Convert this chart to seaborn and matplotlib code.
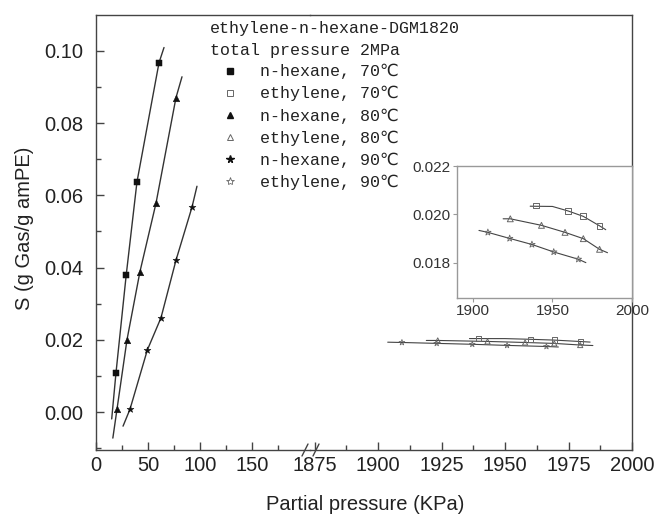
import numpy as np
import matplotlib
matplotlib.use('Agg')
import matplotlib.pyplot as plt
import seaborn as sns
from matplotlib.lines import Line2D

sns.set_theme(style='ticks')
plt.rcParams['font.family'] = ['Liberation Sans', 'DejaVu Sans']
MONO = ['Liberation Mono', 'DejaVu Sans']

# --- data ---
# n-hexane, low partial pressure (left part of broken axis)
hex70_x = [19.2, 29.0, 39.4, 60.6]
hex70_y = [0.0108, 0.0378, 0.0637, 0.0967]
hex80_x = [20.2, 29.8, 42.3, 57.7, 76.9]
hex80_y = [0.0008, 0.0200, 0.0389, 0.0578, 0.0870]
hex90_x = [32.7, 49.4, 62.5, 76.9, 92.3]
hex90_y = [0.0008, 0.0172, 0.0261, 0.0420, 0.0567]

# fitted curves (n-hexane)
fit_hex70_x = [15.1, 19.2, 29.0, 39.4, 60.6, 65.4]
fit_hex70_y = [-0.0019, 0.0108, 0.0378, 0.0637, 0.0967, 0.1009]
fit_hex80_x = [16.2, 20.2, 29.8, 42.3, 57.7, 76.9, 82.7]
fit_hex80_y = [-0.0072, 0.0008, 0.0200, 0.0389, 0.0578, 0.0870, 0.0928]
fit_hex90_x = [26.0, 32.7, 49.4, 62.5, 76.9, 92.3, 97.1]
fit_hex90_y = [-0.0039, 0.0008, 0.0172, 0.0261, 0.0420, 0.0567, 0.0625]

# ethylene, high partial pressure (right part)
eth70_x = [1939.4, 1960.0, 1969.4, 1979.6]
eth70_y = [0.02037, 0.02014, 0.01992, 0.01953]
eth80_x = [1923.5, 1943.1, 1957.9, 1969.4, 1979.6]
eth80_y = [0.01982, 0.01955, 0.01926, 0.01900, 0.01856]
eth90_x = [1909.4, 1923.1, 1937.1, 1950.8, 1966.3]
eth90_y = [0.01926, 0.01901, 0.01876, 0.01845, 0.01815]

# fitted curves (ethylene)
fit_eth70_x = [1936.0, 1950.0, 1960.0, 1969.4, 1979.6, 1983.5]
fit_eth70_y = [0.02034, 0.02033, 0.02014, 0.01992, 0.01953, 0.01937]
fit_eth80_x = [1919.0, 1923.5, 1943.1, 1957.9, 1969.4, 1979.6, 1984.6]
fit_eth80_y = [0.01982, 0.01982, 0.01955, 0.01926, 0.01900, 0.01856, 0.01842]
fit_eth90_x = [1903.8, 1909.4, 1923.1, 1937.1, 1950.8, 1966.3, 1971.0]
fit_eth90_y = [0.01934, 0.01926, 0.01901, 0.01876, 0.01845, 0.01815, 0.01801]

labels = ['n-hexane, 70\u2103', 'ethylene, 70\u2103', 'n-hexane, 80\u2103',
          'ethylene, 80\u2103', 'n-hexane, 90\u2103', 'ethylene, 90\u2103']

# --- figure ---
W, H = 654, 515
fig = plt.figure(figsize=(W / 100, H / 100), dpi=100)
bot, top = 450, 15
ax_l = fig.add_axes([96 / W, (H - bot) / H, (310 - 96) / W, (bot - top) / H])
ax_r = fig.add_axes([310 / W, (H - bot) / H, (632 - 310) / W, (bot - top) / H])
ax_in = fig.add_axes([457 / W, (H - 298) / H, (632 - 457) / W, (298 - 166) / H])

line_c = '#333333'
mk_c = '#111111'
op_c = '#666666'

for fx, fy in [(fit_hex70_x, fit_hex70_y), (fit_hex80_x, fit_hex80_y), (fit_hex90_x, fit_hex90_y)]:
    sns.lineplot(x=fx, y=fy, ax=ax_l, color=line_c, lw=1.0, sort=False, estimator=None)
sns.scatterplot(x=hex70_x, y=hex70_y, ax=ax_l, marker='s', s=20, color=mk_c, edgecolor=mk_c, zorder=3)
sns.scatterplot(x=hex80_x, y=hex80_y, ax=ax_l, marker='^', s=22, color=mk_c, edgecolor=mk_c, zorder=3)
sns.scatterplot(x=hex90_x, y=hex90_y, ax=ax_l, marker='*', s=26, color=mk_c, edgecolor=mk_c, zorder=3)

for a, ms in [(ax_r, 14), (ax_in, 18)]:
    for fx, fy in [(fit_eth70_x, fit_eth70_y), (fit_eth80_x, fit_eth80_y), (fit_eth90_x, fit_eth90_y)]:
        sns.lineplot(x=fx, y=fy, ax=a, color='#444444', lw=0.8, sort=False, estimator=None)
    a.scatter(eth70_x, eth70_y, marker='s', s=ms, facecolor='none', edgecolor=op_c, lw=0.7, zorder=3)
    a.scatter(eth80_x, eth80_y, marker='^', s=ms, facecolor='none', edgecolor=op_c, lw=0.7, zorder=3)
    a.scatter(eth90_x, eth90_y, marker='*', s=ms * 1.3, facecolor='none', edgecolor=op_c, lw=0.6, zorder=3)

# main axes styling
spine_c = '#444444'
for a in (ax_l, ax_r):
    a.set_facecolor('none')
    a.set_ylim(-0.0105, 0.1099)
    for s in a.spines.values():
        s.set_color(spine_c)
        s.set_linewidth(1.0)
    a.tick_params(which='both', direction='in', color=spine_c, width=1.0,
                  labelsize=14.5, labelcolor='#222222')
    a.tick_params(which='major', length=6)
    a.tick_params(which='minor', length=3.5)
    a.tick_params(axis='x', pad=4.5)

ax_l.set_xlim(0, 205.8)
ax_l.set_xticks([0, 50, 100, 150])
ax_l.set_xticks([25, 75, 125, 175], minor=True)
ax_l.set_yticks([0.00, 0.02, 0.04, 0.06, 0.08, 0.10])
ax_l.set_yticks([-0.01, 0.01, 0.03, 0.05, 0.07, 0.09], minor=True)
ax_l.set_yticklabels(['0.00', '0.02', '0.04', '0.06', '0.08', '0.10'])
ax_l.tick_params(axis='y', pad=9)
ax_l.spines['right'].set_visible(False)

ax_r.set_xlim(1873.2, 2000)
ax_r.set_xticks([1875, 1900, 1925, 1950, 1975, 2000])
ax_r.set_xticks([1887.5, 1912.5, 1937.5, 1962.5, 1987.5], minor=True)
ax_r.spines['left'].set_visible(False)
ax_r.tick_params(axis='y', which='both', left=False, labelleft=False)

# inset styling
ax_in.set_xlim(1890, 2000)
ax_in.set_ylim(0.01655, 0.022)
ax_in.set_xticks([1900, 1950, 2000])
ax_in.set_yticks([0.018, 0.020, 0.022])
ax_in.set_yticklabels(['0.018', '0.020', '0.022'])
for s in ax_in.spines.values():
    s.set_color('#999999')
    s.set_linewidth(1.0)
ax_in.tick_params(direction='out', length=3, width=0.8, color='#999999',
                  labelsize=11, labelcolor='#333333', pad=1.5)

# axis break marks
for x0 in (302, 313):
    fig.add_artist(Line2D([x0 / W, (x0 + 6) / W], [(H - 456) / H, (H - 444) / H],
                          color=spine_c, lw=1.0))

# axis labels
fig.text(365 / W, (H - 504) / H, 'Partial pressure (KPa)', ha='center', va='center',
         fontsize=14.5, color='#222222')
fig.text(25 / W, (H - 228) / H, 'S (g Gas/g amPE)', ha='center', va='center',
         rotation=90, fontsize=14.5, color='#222222')

# legend block
fig.text(210 / W, (H - 29) / H, 'ethylene-n-hexane-DGM1820', ha='left', va='center',
         family=MONO, fontsize=12, color='#222222')
fig.text(210 / W, (H - 51) / H, 'total pressure 2MPa', ha='left', va='center',
         family=MONO, fontsize=12, color='#222222')
handles = [
    Line2D([], [], ls='none', marker='s', ms=4.5, mfc=mk_c, mec=mk_c),
    Line2D([], [], ls='none', marker='s', ms=4.5, mfc='none', mec=op_c, mew=0.7),
    Line2D([], [], ls='none', marker='^', ms=5, mfc=mk_c, mec=mk_c),
    Line2D([], [], ls='none', marker='^', ms=5, mfc='none', mec=op_c, mew=0.7),
    Line2D([], [], ls='none', marker='*', ms=5.5, mfc=mk_c, mec=mk_c),
    Line2D([], [], ls='none', marker='*', ms=6, mfc='none', mec=op_c, mew=0.6),
]
fig.legend(handles, labels, loc='upper left', bbox_to_anchor=(220 / W, (H - 64) / H),
           frameon=False, prop={'family': MONO, 'size': 12}, handlelength=1.2,
           handletextpad=1.2, labelspacing=0.4, borderpad=0, borderaxespad=0,
           labelcolor='#222222')

fig.savefig('out.png', dpi=100)
